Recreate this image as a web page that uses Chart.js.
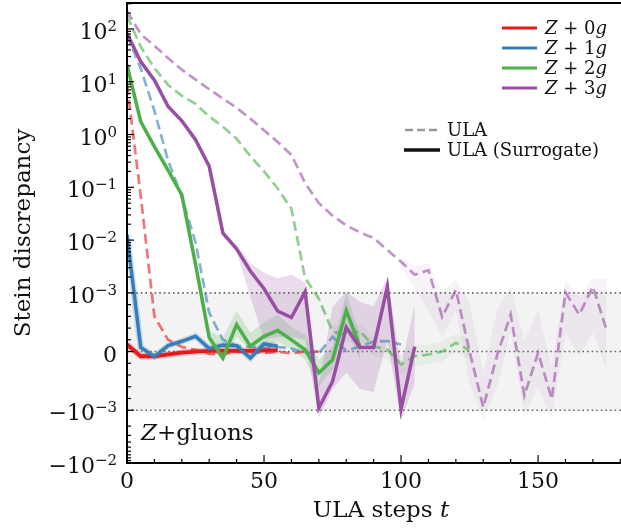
<!DOCTYPE html>
<html>
<head>
<meta charset="utf-8">
<script src="https://cdn.jsdelivr.net/npm/chart.js@4.4.0/dist/chart.umd.min.js"></script>
<style>
  html, body { margin: 0; padding: 0; background: #fff; overflow: hidden; }
  #wrap { width: 640px; height: 528px; }
</style>
</head>
<body>
<div id="wrap"><canvas id="chart" width="640" height="528"></canvas></div>
<script>
// ULA steps (x positions of every sample)
var steps = [0, 5, 10, 15, 20, 25, 30, 35, 40, 45, 50, 55, 60, 65, 70, 75, 80, 85,
             90, 95, 100, 105, 110, 115, 120, 125, 130, 135, 140, 145, 150, 155, 160, 165, 170, 175];

// Z + 0g
var z0Sur = [1.2e-4, -8e-5, -8e-5, -5e-5, -2e-5, 0, 1e-5, 1e-5, 1e-5, 1e-5, 2e-5, 2e-5];
var z0Ula = [8.7, 0.07, 6e-4, 2e-4, 8e-5, 3e-5, -4e-5, -5e-5, 0, 0, -2e-5, 0, -3e-5, 0, 0];
// Z + 1g
var z1Sur = [0.0126, 7e-5, -8.5e-5, 1e-4, 1.75e-4, 2.6e-4, 5e-5, 1.1e-4, 1e-4, -1.1e-4, 1.3e-4, 9e-5];
var z1Ula = [77, 18, 2.8, 0.32, 0.066, 0.009, 6.6e-4, 2e-4, 1e-4, 8e-5, 6e-5, 8e-5, 5e-5, -2e-5,
             -3e-5, 2.5e-4, 1e-5, 9e-5, 1.7e-4, 1.8e-4, 1.2e-4];
// Z + 2g
var z2Sur = [21, 1.75, 0.59, 0.21, 0.072, 0.0035, 2.4e-4, -1.1e-4, 4.6e-4, 9e-5, 2.6e-4, 3.6e-4,
             2e-4, 3e-5, -3.6e-4, -1.4e-4, 7e-4, 9e-5];
var z2SurHi = [null, null, null, null, null, 0.004, 3.5e-4, 2.4e-4, 7e-4, 3.2e-4, 5e-4, 6.3e-4,
               4.2e-4, 2.9e-4, -1.4e-4, 9e-5, 1e-3, 2.9e-4];
var z2SurLo = [null, null, null, null, null, 0.003, 1.2e-4, -1.7e-4, 2.5e-4, 3e-5, 9e-5, 1.7e-4,
               3e-5, -1.4e-4, -5.9e-4, -3e-4, 3.7e-4, -1.4e-4];
var z2Ula = [178, 46, 18, 8.7, 5.4, 3.8, 2.2, 1.4, 0.83, 0.39, 0.2, 0.095, 0.039, 0.0019, 9e-4,
             3.4e-4, 2.8e-4, 3.5e-4, 9e-5, 3e-5, -2.2e-4, -8e-5, -5e-5, 0, 1.5e-4, 2e-5];
var z2UlaHi = [null, null, null, null, null, null, null, null, null, null, null, null, null, null, null,
               4.5e-4, 4e-4, 4.7e-4, 2.5e-4, 2e-4, -5e-5, 1e-4, 1.2e-4, 1.7e-4, 3e-4, 2e-4];
var z2UlaLo = [null, null, null, null, null, null, null, null, null, null, null, null, null, null, null,
               2.2e-4, 1.5e-4, 1.8e-4, -8e-5, -1.3e-4, -4e-4, -2.5e-4, -2.2e-4, -1.7e-4, 0, -1.5e-4];
// Z + 3g
var z3Sur = [83, 24, 10.7, 3.4, 1.82, 0.8, 0.25, 0.0135, 0.0068, 0.0026, 1.2e-3, 6.9e-4, 5.8e-4,
             1.05e-3, -9.6e-4, -5.1e-4, 4.1e-4, 7e-5, 7e-5, 1.3e-3, -9.8e-4, 8.5e-5];
var z3SurHi = [null, null, null, null, null, null, null, 0.015, 0.008, 0.0037, 0.0024, 0.0019, 0.0022,
               0.0016, -5.6e-4, 7.7e-4, 1.05e-3, 8.5e-4, 7.7e-4, 2e-3, -2.5e-4, 8e-4];
var z3SurLo = [null, null, null, null, null, null, null, 0.012, 0.006, 9.3e-4, 2e-4, 2.5e-4, 2.5e-4,
               2e-4, -1.4e-3, -6.4e-4, -3.6e-4, -6.4e-4, -6.9e-4, 2e-4, -1.6e-3, -5.3e-4];
var z3Ula = [218, 80, 48, 28, 17, 11, 7.2, 4.8, 3.2, 2.0, 1.2, 0.72, 0.41, 0.12, 0.05, 0.029, 0.019,
             0.014, 0.011, 0.0065, 0.0039, 0.0022, 0.0027, 5.9e-4, 1.14e-3, 0, -9.5e-4, -7e-5, 6.3e-4,
             -7.5e-4, -2e-5, -8.1e-4, 1.02e-3, 6.3e-4, 1.3e-3, 3.7e-4];
var z3UlaHi = [null, null, null, null, null, null, null, null, null, null, null, null, null, null, null,
               null, null, null, null, null, 0.005, 0.0031, 0.0037, 1.1e-3, 1.8e-3, 8.3e-4, -3.6e-4, 7e-4,
               1.3e-3, 2e-4, 7e-4, -2.5e-4, 1.8e-3, 9.3e-4, 1.9e-3, 1.8e-3];
var z3UlaLo = [null, null, null, null, null, null, null, null, null, null, null, null, null, null, null,
               null, null, null, null, null, 0.003, 0.0012, 7e-4, 2.5e-4, 7e-4, -5.3e-4, -1.5e-3, -6e-4,
               3.2e-4, -1.3e-3, -6e-4, -1.5e-3, 3.2e-4, -8e-5, 3.2e-4, -3e-4];

// axis ticks
var xMajor = [0, 50, 100, 150];
var yMajor = [1e2, 1e1, 1, 1e-1, 1e-2, 1e-3, 0, -1e-3, -1e-2];
var yTickBase = ['10', '10', '10', '10', '10', '10', '0', '\u221210', '\u221210'];
var yTickExp = ['2', '1', '0', '\u22121', '\u22122', '\u22123', '', '\u22123', '\u22122'];
var band = [-1e-3, 1e-3];
var legendNums = ['0', '1', '2', '3'];

var colors = {
  red: [228, 26, 28], blue: [55, 126, 184], green: [77, 175, 74], purple: [152, 78, 163]
};
function rgba(c, a) { return 'rgba(' + c[0] + ',' + c[1] + ',' + c[2] + ',' + a + ')'; }

// symlog transform (linthresh 1e-3, linscale 1)
var LT = 1e-3, LSC = 1 / (1 - 1 / 10);
function symlog(v) {
  if (v === null) return null;
  var a = Math.abs(v);
  if (a <= LT) return v / LT * LSC;
  return Math.sign(v) * (LSC + Math.log10(a / LT));
}
function pts(vals) {
  return vals.map(function (v, i) { return { x: steps[i], y: symlog(v) }; });
}

var SERIF = '"DejaVu Serif", "Liberation Serif", serif';

var datasets = [
  // surrogate (solid), purple on top
  { data: pts(z3Sur), borderColor: rgba(colors.purple, 1), borderWidth: 3.5, order: 1 },
  { data: pts(z2Sur), borderColor: rgba(colors.green, 1), borderWidth: 3.5, order: 2 },
  { data: pts(z1Sur), borderColor: rgba(colors.blue, 1), borderWidth: 3.5, order: 3 },
  { data: pts(z0Sur), borderColor: rgba(colors.red, 1), borderWidth: 3.8, order: 4 },
  { data: pts(z1Sur), borderColor: rgba(colors.blue, 0.22), borderWidth: 6.5, order: 5 },
  { data: pts(z0Sur), borderColor: rgba(colors.red, 0.25), borderWidth: 6.5, order: 6 },
  // plain ULA (dashed)
  { data: pts(z3Ula), borderColor: rgba(colors.purple, 0.6), borderWidth: 2.7, borderDash: [10, 5], order: 10 },
  { data: pts(z2Ula), borderColor: rgba(colors.green, 0.6), borderWidth: 2.7, borderDash: [10, 5], order: 11 },
  { data: pts(z1Ula), borderColor: rgba(colors.blue, 0.6), borderWidth: 2.7, borderDash: [10, 5], order: 12 },
  { data: pts(z0Ula), borderColor: rgba(colors.red, 0.6), borderWidth: 2.7, borderDash: [10, 5], order: 13 },
  // uncertainty bands
  { data: pts(z3SurHi), borderWidth: 0, fill: '+1', backgroundColor: rgba(colors.purple, 0.2), order: 20 },
  { data: pts(z3SurLo), borderWidth: 0, fill: false, order: 21 },
  { data: pts(z2SurHi), borderWidth: 0, fill: '+1', backgroundColor: rgba(colors.green, 0.2), order: 22 },
  { data: pts(z2SurLo), borderWidth: 0, fill: false, order: 23 },
  { data: pts(z3UlaHi), borderWidth: 0, fill: '+1', backgroundColor: rgba(colors.purple, 0.07), order: 24 },
  { data: pts(z3UlaLo), borderWidth: 0, fill: false, order: 25 },
  { data: pts(z2UlaHi), borderWidth: 0, fill: '+1', backgroundColor: rgba(colors.green, 0.07), order: 26 },
  { data: pts(z2UlaLo), borderWidth: 0, fill: false, order: 27 }
];

function fontOf(p) { return (p.it ? 'italic ' : '') + p.size + 'px ' + SERIF; }
function richText(ctx, parts, x, y, align) {
  var w = 0;
  parts.forEach(function (p) { ctx.font = fontOf(p); w += ctx.measureText(p.t).width; });
  var sx = align === 'right' ? x - w : (align === 'center' ? x - w / 2 : x);
  ctx.textAlign = 'left';
  ctx.textBaseline = 'alphabetic';
  parts.forEach(function (p) {
    ctx.font = fontOf(p);
    ctx.fillText(p.t, sx, y + (p.dy || 0));
    sx += ctx.measureText(p.t).width;
  });
}

var framePlugin = {
  id: 'frame',
  beforeDatasetsDraw: function (chart) {
    var ctx = chart.ctx, a = chart.chartArea, ys = chart.scales.y;
    var yHi = ys.getPixelForValue(symlog(band[1]));
    var yLo = ys.getPixelForValue(symlog(band[0]));
    ctx.save();
    ctx.fillStyle = '#f3f3f3';
    ctx.fillRect(a.left, yHi, a.right - a.left, yLo - yHi);
    ctx.strokeStyle = '#666';
    ctx.lineWidth = 1.6;
    ctx.setLineDash([1.6, 3]);
    [band[1], 0, band[0]].forEach(function (v) {
      var py = ys.getPixelForValue(symlog(v));
      ctx.beginPath(); ctx.moveTo(a.left, py); ctx.lineTo(a.right, py); ctx.stroke();
    });
    ctx.restore();
  },
  afterDraw: function (chart) {
    var ctx = chart.ctx, a = chart.chartArea, xs = chart.scales.x, ys = chart.scales.y;
    ctx.save();
    // frame
    ctx.strokeStyle = '#000';
    ctx.lineWidth = 2;
    ctx.beginPath();
    ctx.moveTo(a.right + 10, a.top); ctx.lineTo(a.left, a.top);
    ctx.lineTo(a.left, a.bottom); ctx.lineTo(a.right + 10, a.bottom);
    ctx.stroke();

    // y ticks
    ctx.lineWidth = 1.2;
    var yMinor = [];
    for (var k = -3; k <= 2; k++) {
      for (var m = 2; m <= 9; m++) {
        var v = m * Math.pow(10, k);
        if (v < 310) yMinor.push(v);
        if (k === -3) yMinor.push(-v);
      }
    }
    [2e-4, 4e-4, 6e-4, 8e-4].forEach(function (v) { yMinor.push(v, -v); });
    yMinor.forEach(function (v) {
      var py = ys.getPixelForValue(symlog(v));
      ctx.beginPath(); ctx.moveTo(a.left, py); ctx.lineTo(a.left + 4, py); ctx.stroke();
    });
    yMajor.forEach(function (v) {
      var py = ys.getPixelForValue(symlog(v));
      ctx.beginPath(); ctx.moveTo(a.left, py); ctx.lineTo(a.left + 7, py); ctx.stroke();
    });
    // x ticks
    for (var t = 0; t <= 180; t += 10) {
      var px = xs.getPixelForValue(t);
      var len = xMajor.indexOf(t) >= 0 ? 8 : 4;
      ctx.beginPath(); ctx.moveTo(px, a.bottom); ctx.lineTo(px, a.bottom - len); ctx.stroke();
    }

    ctx.fillStyle = '#111';
    // y tick labels
    yMajor.forEach(function (v, i) {
      var py = ys.getPixelForValue(symlog(v));
      var parts = [{ t: yTickBase[i], size: 22 }];
      if (yTickExp[i]) parts.push({ t: yTickExp[i], size: 15, dy: -8 });
      richText(ctx, parts, 117, py + 10, 'right');
    });
    // x tick labels
    xMajor.forEach(function (v) {
      richText(ctx, [{ t: String(v), size: 22 }], xs.getPixelForValue(v), a.bottom + 25, 'center');
    });
    // axis titles
    richText(ctx, [{ t: 'ULA steps ', size: 23 }, { t: 't', size: 23, it: true }], 381, 517, 'center');
    ctx.save();
    ctx.translate(30, (a.top + a.bottom) / 2);
    ctx.rotate(-Math.PI / 2);
    richText(ctx, [{ t: 'Stein discrepancy', size: 23 }], 0, 0, 'center');
    ctx.restore();

    // inset label
    richText(ctx, [{ t: 'Z', size: 23, it: true }, { t: '+gluons', size: 23 }], 141, 440, 'left');

    // legend: processes
    var legCols = [colors.red, colors.blue, colors.green, colors.purple];
    legendNums.forEach(function (n, i) {
      var ly = 28 + i * 20;
      ctx.strokeStyle = rgba(legCols[i], 1);
      ctx.lineWidth = 3;
      ctx.setLineDash([]);
      ctx.beginPath(); ctx.moveTo(502, ly); ctx.lineTo(537, ly); ctx.stroke();
      richText(ctx, [{ t: 'Z', size: 18, it: true }, { t: ' + ' + n, size: 18 }, { t: 'g', size: 18, it: true }],
        545, ly + 6, 'left');
    });
    // legend: samplers
    ctx.strokeStyle = '#999';
    ctx.lineWidth = 2.6;
    ctx.setLineDash([8, 4]);
    ctx.beginPath(); ctx.moveTo(405, 130); ctx.lineTo(440, 130); ctx.stroke();
    ctx.setLineDash([]);
    ctx.strokeStyle = '#111';
    ctx.lineWidth = 3.5;
    ctx.beginPath(); ctx.moveTo(404, 150); ctx.lineTo(440, 150); ctx.stroke();
    richText(ctx, [{ t: 'ULA', size: 18 }], 447, 136, 'left');
    richText(ctx, [{ t: 'ULA (Surrogate)', size: 18 }], 447, 156, 'left');
    ctx.restore();
  }
};

var ctx = document.getElementById('chart').getContext('2d');
var chart = new Chart(ctx, {
  type: 'line',
  data: { datasets: datasets },
  options: {
    responsive: false,
    animation: false,
    devicePixelRatio: 1,
    layout: { padding: { top: 3, right: 6, left: 0, bottom: 0 } },
    elements: { point: { radius: 0 }, line: { tension: 0, fill: false } },
    plugins: { legend: { display: false }, tooltip: { enabled: false } },
    scales: {
      x: {
        type: 'linear', min: 0, max: 185,
        grid: { display: false }, border: { display: false },
        ticks: { display: false },
        afterFit: function (s) { s.height = 65; }
      },
      y: {
        type: 'linear', min: symlog(-1e-2), max: symlog(310),
        grid: { display: false }, border: { display: false },
        ticks: { display: false },
        afterFit: function (s) { s.width = 127; }
      }
    }
  },
  plugins: [framePlugin]
});
</script>
</body>
</html>
